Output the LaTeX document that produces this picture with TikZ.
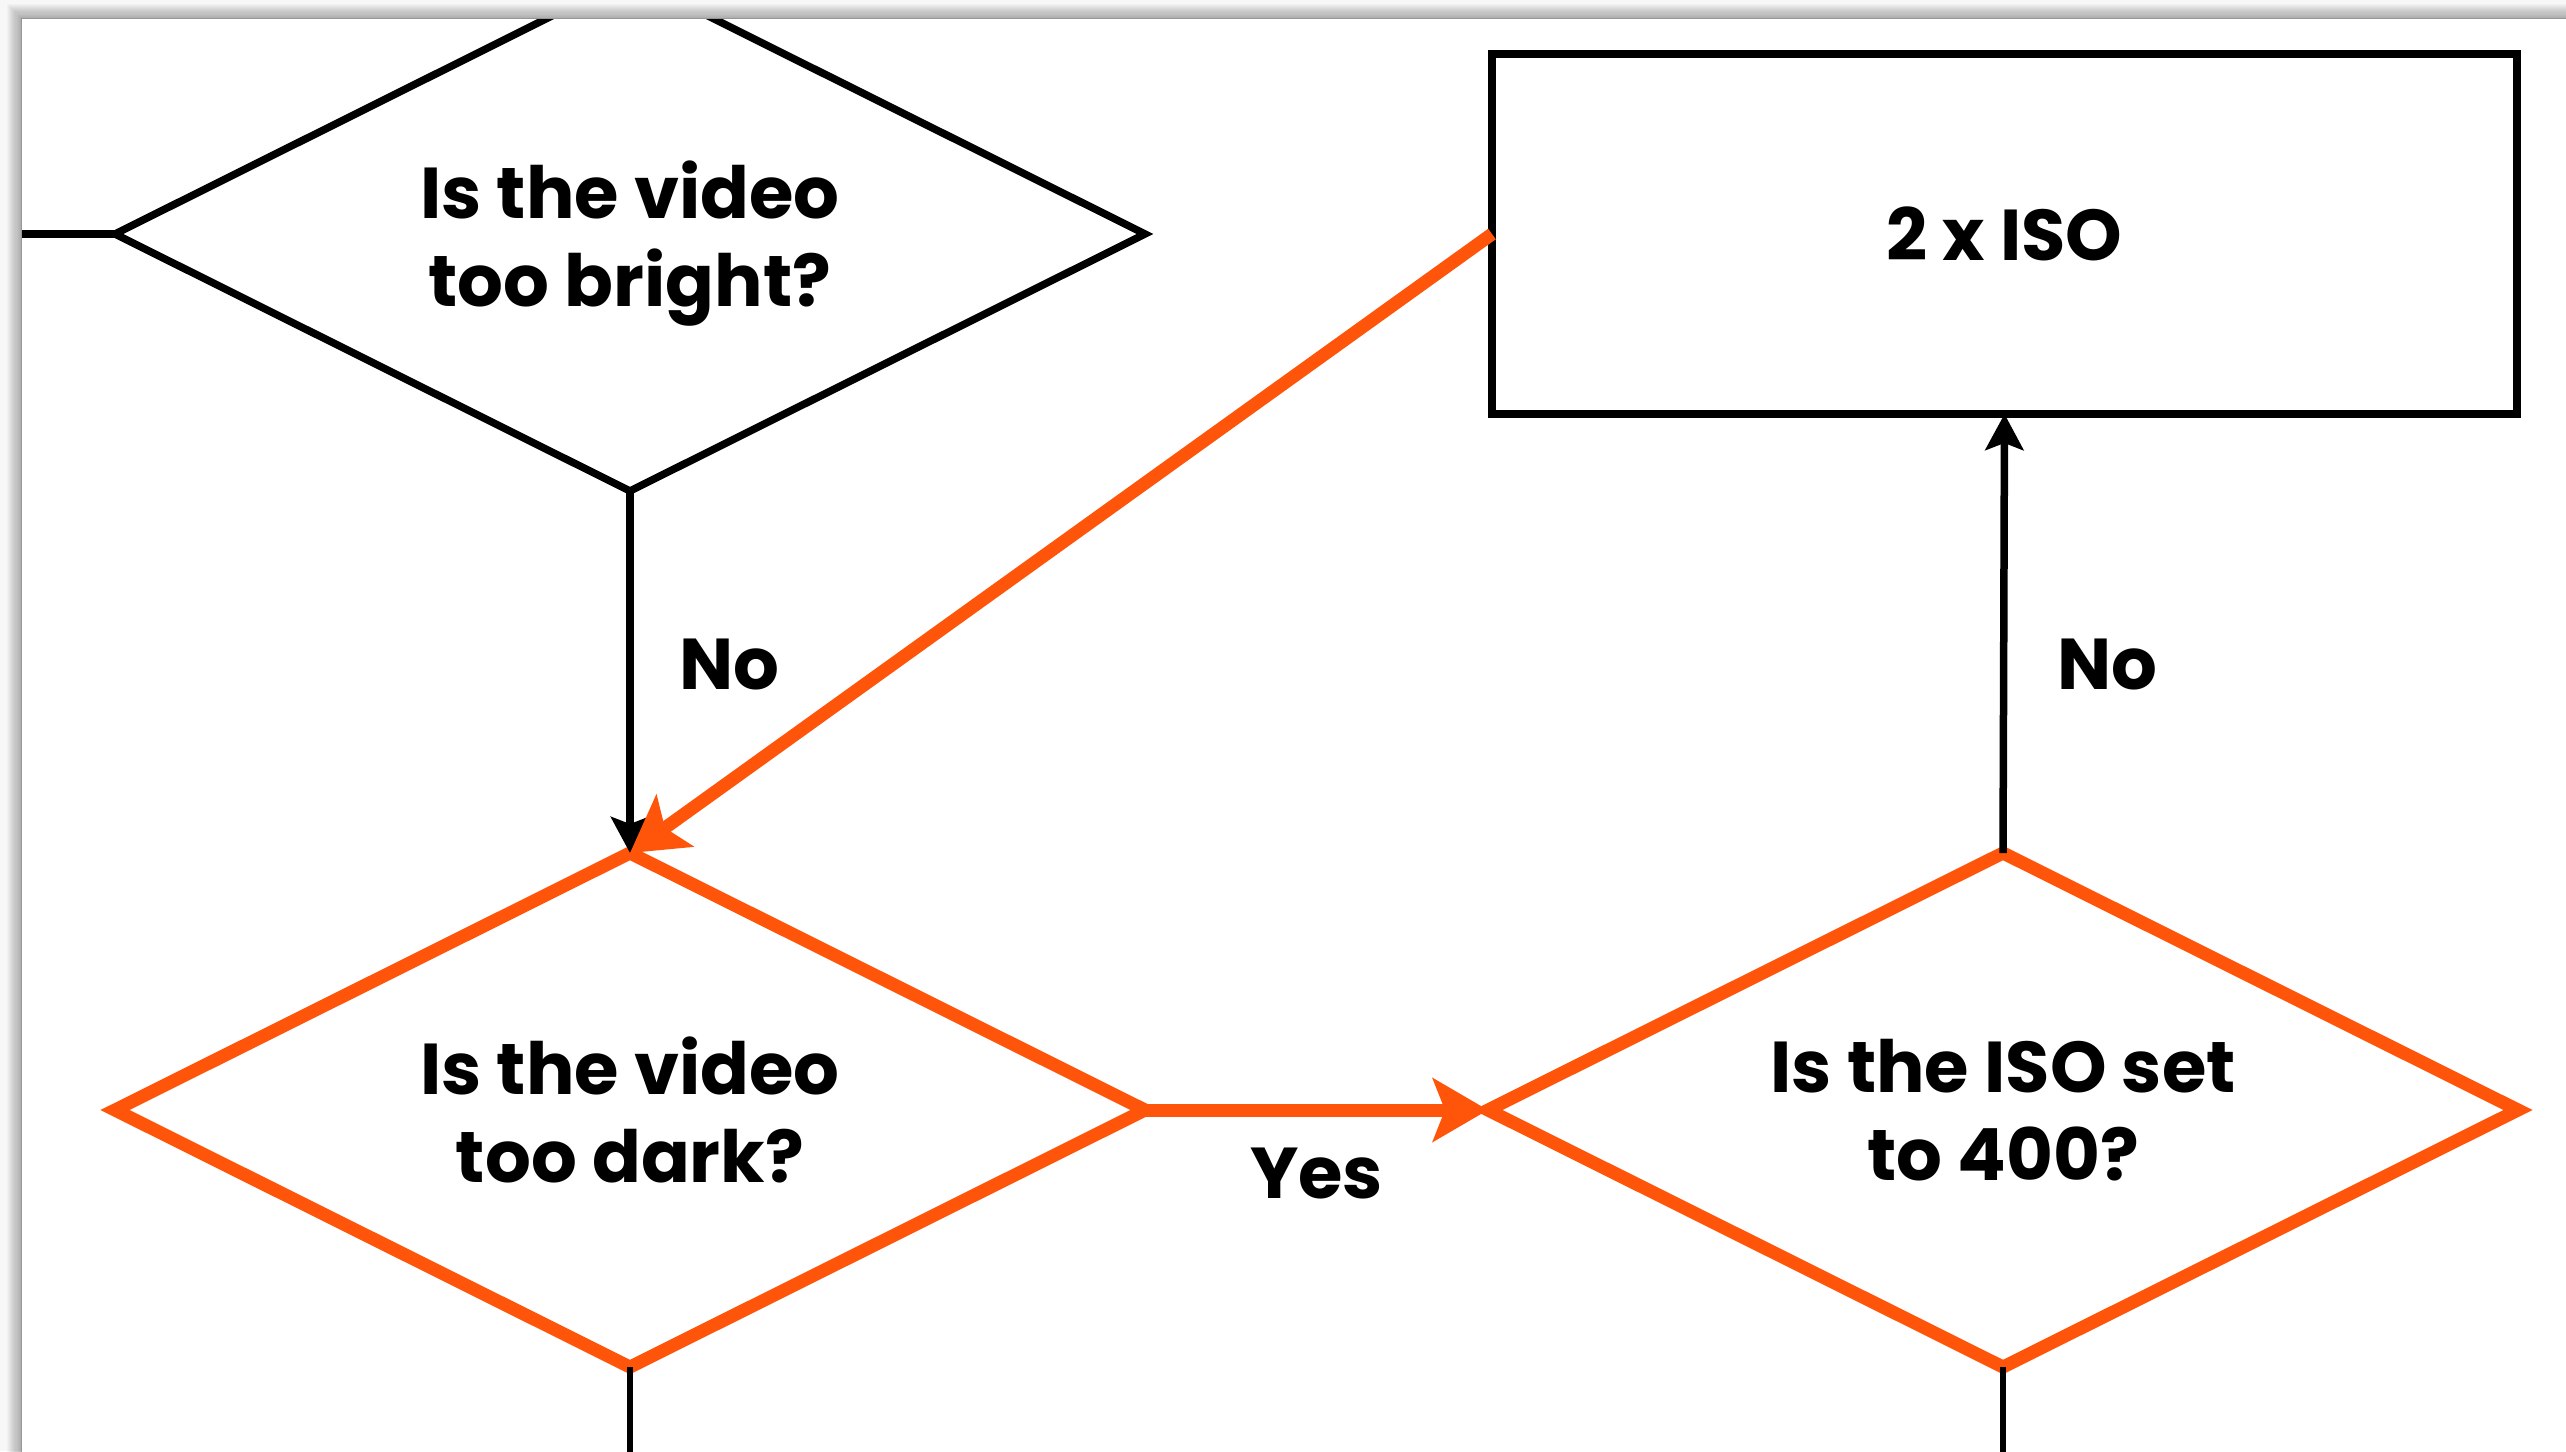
\documentclass[tikz,border=0pt]{standalone}
\usepackage{fontspec}
\setmainfont{Poppins}
\usetikzlibrary{shapes.geometric,arrows.meta}
\definecolor{flame}{RGB}{255,85,10}
\definecolor{backdrop}{RGB}{247,247,247}

\begin{document}
\begin{tikzpicture}[x=1pt,y=-1pt,
  every node/.style={font=\fontsize{72}{88}\selectfont\bfseries, align=center, outer sep=0pt},
  decision/.style={diamond, draw, shape aspect=2, minimum width=1030pt, minimum height=514pt, inner sep=0pt, text depth=0pt},
  coldline/.style={line width=7.5pt, draw=black},
  hotline/.style={line width=13pt, draw=flame},
  coldarrow/.style={coldline, -{Stealth[length=36pt,width=38pt,inset=7pt]}},
  hotarrow/.style={hotline, -{Stealth[length=55pt,width=63pt,inset=12pt]}},
  action/.style={rectangle, draw, line width=8.5pt, minimum width=1025pt, minimum height=360pt, inner sep=0pt},
  tag/.style={font=\fontsize{72}{88}\selectfont\bfseries}
]
% backdrop with a soft shadow along the page edge
\useasboundingbox (0,0) rectangle (2566,1451);
\fill[backdrop] (0,0) rectangle (2566,1451);
\foreach \s in {1,...,14}
  \fill[black, opacity=0.022] ({22-1.1*\s},{19-1.1*\s}) rectangle (2600,1500);
\fill[black, opacity=0.12] (20.5,17.5) rectangle (2600,1500);
\fill[white] (22,19) rectangle (2600,1500);

\begin{scope}
\clip (22,19) rectangle (2566,1451);

% decisions and action
\node[decision, coldline] (bright) at (630,234) {Is the video\\too bright?};
\node[decision, hotline] (dark) at (630,1110) {Is the video\\too dark?};
\node[decision, hotline] (isoq) at (2003,1110) {Is the ISO set\\to 400?};
\node[action] (twoiso) at (2004.5,234) {2 x ISO};

% loose ends
\coordinate (inflow) at (15,234);
\coordinate (darkout) at (630,1460);
\coordinate (isoout) at (2003,1460);

% connectors
\draw[coldline] (inflow) -- (bright.west);
\draw[line width=6.5pt] (dark.south) -- (darkout);
\draw[line width=6.5pt] (isoq.south) -- (isoout);
\draw[coldarrow] (bright.south) -- node[pos=0.48, anchor=west, xshift=46pt, tag] {No} (dark.north);
\draw[coldarrow] (isoq.north) -- node[pos=0.43, anchor=west, xshift=50pt, tag] {No} (twoiso.south);
\draw[hotarrow] (twoiso.west) -- (dark.north);
\draw[hotarrow] (dark.east) -- node[midway, yshift=-63pt, tag] {Yes} (isoq.west);
\end{scope}
\end{tikzpicture}
\end{document}
